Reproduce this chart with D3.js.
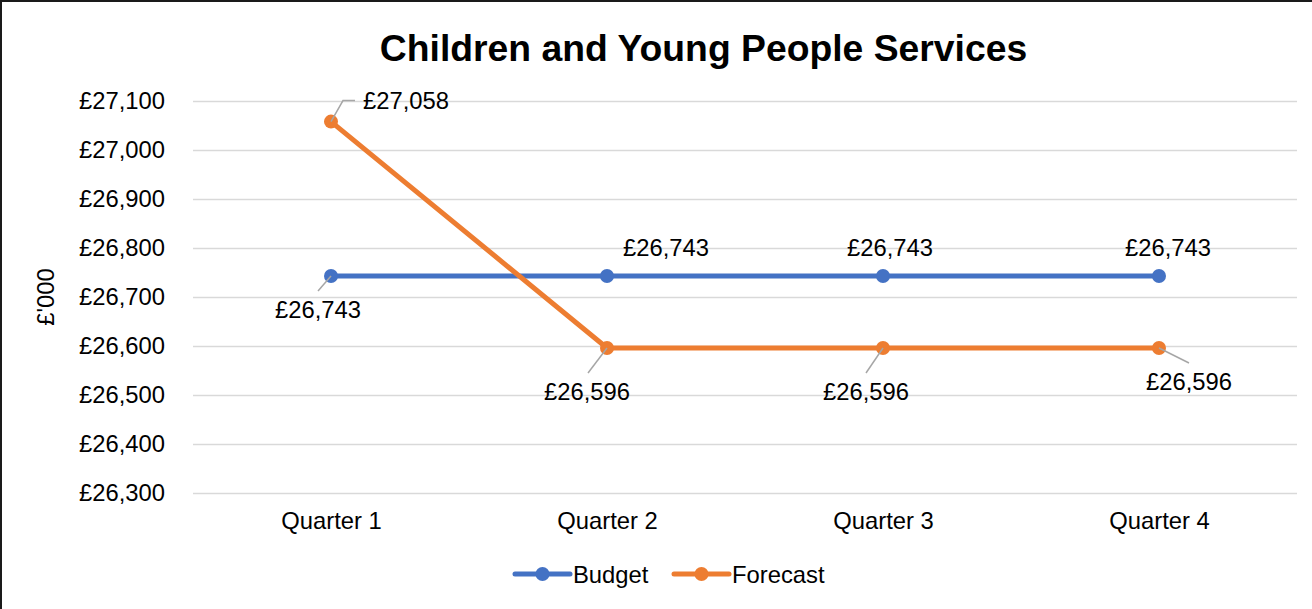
<!DOCTYPE html>
<html>
<head>
<meta charset="utf-8">
<script src="https://cdn.jsdelivr.net/npm/d3@7/dist/d3.min.js"></script>
<style>
  html, body { margin: 0; padding: 0; background: #fff; }
  svg { display: block; }
  text { font-family: "Liberation Sans", Arial, sans-serif; fill: #000; }
</style>
</head>
<body>
<svg id="chart" width="1312" height="609"></svg>
<script>
// ---- data ----
const categories = ["Quarter 1", "Quarter 2", "Quarter 3", "Quarter 4"];
const budget = [26743, 26743, 26743, 26743];
const forecast = [27058, 26596, 26596, 26596];
const yTicks = [26300, 26400, 26500, 26600, 26700, 26800, 26900, 27000, 27100];
const seriesNames = ["Budget", "Forecast"];

// ---- layout (label offsets relative to points) ----
const budgetLabelLayout = [
  { dx: -13, dy: 34, leader: [-13, 15] },
  { dx: 59, dy: -28, leader: null },
  { dx: 7, dy: -28, leader: null },
  { dx: 9, dy: -28, leader: null }
];
const forecastLabelLayout = [
  { dy: -21, anchor: "start", tx: 32, leader: [12, -21, 24, -21] },
  { dx: -20, dy: 44, leader: [-19, 25] },
  { dx: -17, dy: 44, leader: [-17, 25] },
  { dx: 30, dy: 34, leader: [30, 15] }
];

const FS = "23.8px";
const svg = d3.select("#chart");
const W = 1312, H = 609;

// border
svg.append("rect").attr("x", 1).attr("y", 1).attr("width", W + 10).attr("height", H + 10)
  .attr("fill", "#fff").attr("stroke", "#1a1a1a").attr("stroke-width", 2);

const x = d3.scalePoint().domain(categories).range([331, 1159]);
const plotLeft = 193, plotRight = 1297;
const y = d3.scaleLinear().domain([26300, 27100]).range([493, 101]);

// title
svg.append("text").attr("x", 703.5).attr("y", 61).attr("text-anchor", "middle")
  .style("font-size", "37.3px").style("font-weight", "bold")
  .text("Children and Young People Services");

// gridlines
const grid = svg.append("g")
  .attr("transform", `translate(${plotLeft},0)`)
  .call(d3.axisLeft(y).tickValues(yTicks).tickSize(-(plotRight - plotLeft)).tickFormat(""));
grid.select(".domain").remove();
grid.selectAll(".tick line").attr("stroke", "#d9d9d9").attr("stroke-width", 1.5);

// y tick labels
const fmt = d3.format(",");
const yAxis = svg.append("g")
  .attr("transform", `translate(${plotLeft},0)`)
  .call(d3.axisLeft(y).tickValues(yTicks).tickSize(0).tickPadding(28).tickFormat(d => "£" + fmt(d)));
yAxis.select(".domain").remove();
yAxis.selectAll("text").style("font-size", FS).style("font-family", "Liberation Sans, Arial, sans-serif").attr("fill", "#000");

// x axis labels
const xAxis = svg.append("g")
  .attr("transform", `translate(0,493)`)
  .call(d3.axisBottom(x).tickSize(0).tickPadding(19));
xAxis.select(".domain").remove();
xAxis.selectAll("text").style("font-size", FS).style("font-family", "Liberation Sans, Arial, sans-serif").attr("fill", "#000");

// y axis title
svg.append("text").attr("transform", "translate(54,297) rotate(-90)")
  .attr("text-anchor", "middle").style("font-size", FS).text("£'000");

const line = d3.line().x((d, i) => x(categories[i])).y(d => y(d));
const colors = { Budget: "#4472c4", Forecast: "#ed7d31" };

function drawSeries(vals, color) {
  svg.append("path").datum(vals).attr("d", line).attr("fill", "none")
    .attr("stroke", color).attr("stroke-width", 5).attr("stroke-linejoin", "round");
  svg.selectAll(null).data(vals).enter().append("circle")
    .attr("cx", (d, i) => x(categories[i])).attr("cy", d => y(d)).attr("r", 7)
    .attr("fill", color);
}
drawSeries(budget, colors.Budget);
drawSeries(forecast, colors.Forecast);

function drawLabels(vals, layout) {
  vals.forEach((v, i) => {
    const px = x(categories[i]), py = y(v);
    const L = layout[i];
    if (L.leader) {
      let pts = [[px, py]];
      for (let k = 0; k < L.leader.length; k += 2) pts.push([px + L.leader[k], py + L.leader[k + 1]]);
      svg.append("path").attr("d", d3.line()(pts)).attr("fill", "none")
        .attr("stroke", "#a6a6a6").attr("stroke-width", 1.5);
    }
    const t = svg.append("text").style("font-size", FS).attr("dominant-baseline", "central")
      .text("£" + fmt(v));
    if (L.anchor === "start") {
      t.attr("x", px + L.tx).attr("y", py + L.dy).attr("text-anchor", "start");
    } else {
      t.attr("x", px + L.dx).attr("y", py + L.dy).attr("text-anchor", "middle");
    }
  });
}
drawLabels(budget, budgetLabelLayout);
drawLabels(forecast, forecastLabelLayout);

// legend
const legendItems = [
  { name: seriesNames[0], x0: 515 },
  { name: seriesNames[1], x0: 674 }
];
const ly = 574;
legendItems.forEach(it => {
  const c = colors[it.name];
  svg.append("line").attr("x1", it.x0).attr("x2", it.x0 + 55).attr("y1", ly).attr("y2", ly)
    .attr("stroke", c).attr("stroke-width", 5).attr("stroke-linecap", "round");
  svg.append("circle").attr("cx", it.x0 + 27.5).attr("cy", ly).attr("r", 7).attr("fill", c);
  svg.append("text").attr("x", it.x0 + 58).attr("y", ly).attr("dominant-baseline", "central")
    .style("font-size", FS).text(it.name);
});
</script>
</body>
</html>
